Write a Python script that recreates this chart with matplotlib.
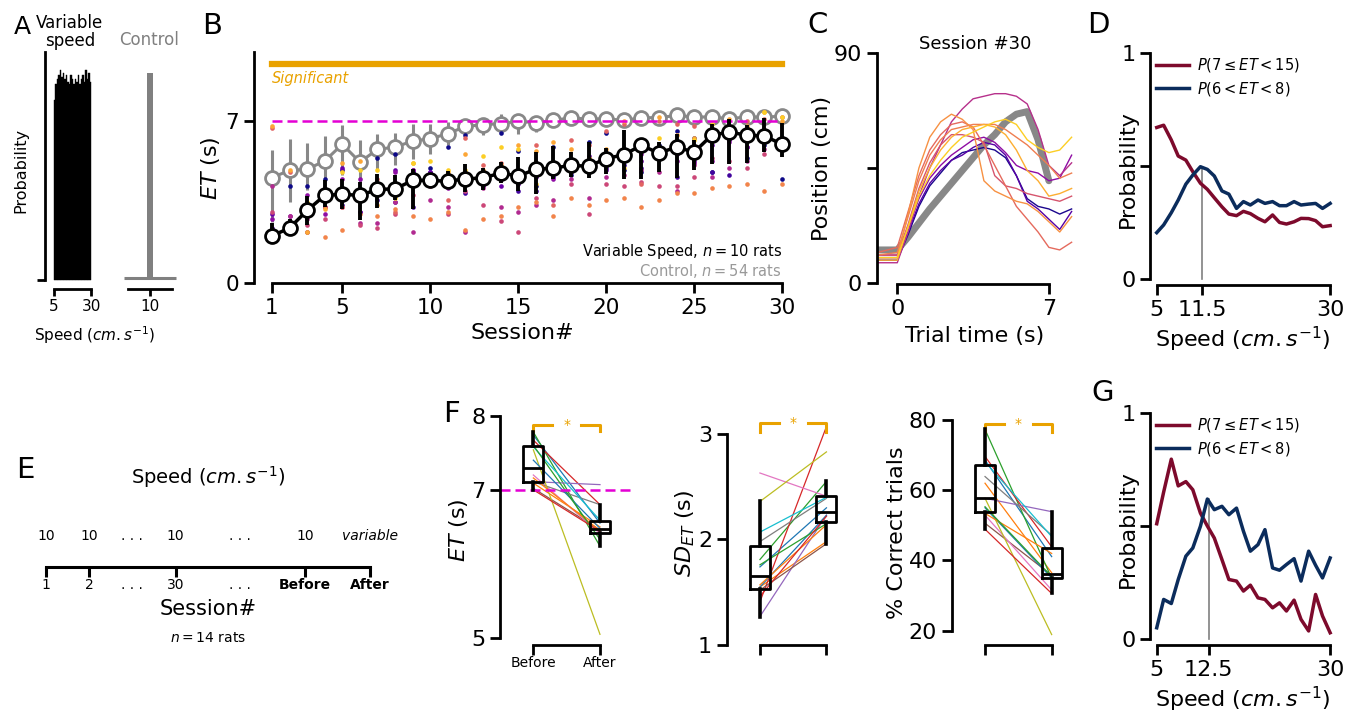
import numpy as np
import matplotlib
matplotlib.use('Agg')
import matplotlib.pyplot as plt

# ---------------- data ----------------
# Panel A
A_bins = [5.5, 6.5, 7.5, 8.5, 9.5, 10.5, 11.5, 12.5, 13.5, 14.5, 15.5, 16.5, 17.5,
          18.5, 19.5, 20.5, 21.5, 22.5, 23.5, 24.5, 25.5, 26.5, 27.5, 28.5, 29.5]
A_var_prob = [0.79, 0.86, 0.88, 0.90, 0.92, 0.89, 0.91, 0.88, 0.90, 0.87, 0.86, 0.90, 0.88,
              0.86, 0.88, 0.87, 0.90, 0.86, 0.88, 0.90, 0.87, 0.92, 0.88, 0.91, 0.87]
A_ctrl_speed = [10]
A_ctrl_prob = [0.91]
A_ctrl_base = 0.01

# Panel B
sessions = list(range(1, 31))
ctrl_mean = [4.57, 4.88, 4.93, 5.29, 6.01, 5.24, 5.79, 5.89, 6.15, 6.25, 6.47, 6.78, 6.86, 6.90, 7.01,
             6.94, 7.04, 7.16, 7.09, 7.12, 7.04, 7.16, 7.16, 7.26, 7.19, 7.19, 7.12, 7.19, 7.19, 7.22]
ctrl_hi = [5.78, 6.25, 6.08, 6.35, 6.83, 6.21, 6.47, 6.50, 6.90, 6.90, 6.97, 7.01, 7.12, 7.33, 7.19,
           7.12, 7.30, 7.38, 7.32, 7.34, 7.28, 7.38, 7.36, 7.47, 7.40, 7.40, 7.34, 7.41, 7.41, 7.44]
ctrl_lo = [2.65, 3.51, 4.02, 4.57, 4.67, 4.38, 4.96, 5.10, 5.39, 5.60, 5.96, 6.25, 6.40, 6.54, 6.47,
           6.54, 6.75, 6.88, 6.82, 6.85, 6.78, 6.90, 6.90, 7.00, 6.93, 6.93, 6.85, 6.93, 6.93, 6.98]
var_mean = [2.05, 2.39, 3.15, 3.80, 3.85, 3.80, 4.06, 4.08, 4.45, 4.45, 4.41, 4.52, 4.55, 4.77, 4.64,
            4.93, 4.98, 5.10, 5.06, 5.39, 5.56, 5.96, 5.63, 5.89, 5.67, 6.40, 6.54, 6.40, 6.37, 6.01]
var_hi = [2.62, 2.80, 3.76, 4.45, 4.52, 4.38, 4.74, 4.67, 4.96, 4.67, 4.84, 5.14, 4.98, 5.24, 5.46,
          5.67, 5.92, 5.67, 6.11, 5.86, 6.61, 6.25, 6.11, 6.47, 6.18, 6.90, 7.12, 6.83, 7.16, 6.91]
var_lo = [2.05, 2.20, 2.51, 3.30, 3.23, 2.75, 3.27, 3.59, 3.20, 4.16, 4.16, 3.95, 4.05, 4.33, 3.98,
          3.85, 4.52, 4.59, 4.57, 4.74, 4.52, 4.52, 4.81, 4.57, 4.88, 5.14, 5.14, 5.20, 5.67, 5.44]
rat_et = [
    [2.1, 4.2, 4.2, 4.5, 4.9, 3.9, 5.4, 5.6, 4.8, 5.0, 5.9, 6.4, 4.4, 6.5, 5.7, 4.2, 5.9, 4.7, 6.1, 6.5, 4.9, 4.8, 6.0, 6.6, 6.3, 4.8, 6.5, 5.4, 6.0, 4.5],
    [2.4, 2.2, 2.2, 3.3, 3.4, 3.1, 3.6, 3.5, 3.3, 4.8, 4.3, 3.9, 4.3, 4.5, 4.0, 4.0, 4.6, 4.9, 4.8, 5.0, 5.1, 5.0, 5.5, 4.6, 5.6, 4.8, 4.7, 5.9, 6.2, 6.3],
    [3.0, 2.9, 3.3, 3.6, 5.0, 3.1, 4.0, 4.9, 4.9, 4.8, 4.3, 4.5, 4.2, 4.2, 4.3, 4.6, 4.8, 4.8, 5.5, 4.9, 5.3, 5.3, 5.7, 5.6, 5.3, 6.0, 6.2, 6.3, 6.1, 6.1],
    [2.8, 2.6, 3.8, 3.0, 4.5, 4.5, 4.3, 4.8, 4.9, 4.6, 4.1, 4.4, 4.7, 4.5, 4.9, 5.1, 4.5, 5.0, 5.4, 5.1, 5.5, 5.6, 5.8, 5.3, 5.2, 5.3, 6.1, 5.9, 6.4, 5.9],
    [4.2, 2.9, 2.8, 3.3, 3.8, 2.6, 2.6, 3.5, 2.2, 3.6, 3.3, 2.2, 4.1, 3.3, 3.1, 3.4, 3.6, 4.5, 3.7, 4.6, 4.7, 4.9, 4.8, 4.0, 5.1, 4.6, 5.0, 5.3, 5.8, 5.9],
    [3.1, 2.4, 2.5, 2.8, 3.3, 2.5, 2.4, 3.0, 3.8, 4.2, 3.0, 4.0, 3.4, 2.7, 2.2, 3.7, 4.8, 4.3, 3.0, 4.3, 4.2, 4.4, 4.2, 4.2, 4.6, 5.4, 5.3, 5.0, 5.6, 5.8],
    [6.7, 4.8, 3.1, 3.3, 3.3, 3.9, 4.5, 3.1, 4.2, 4.3, 3.6, 6.3, 5.1, 5.2, 4.7, 6.0, 3.4, 6.2, 6.0, 6.6, 6.9, 4.3, 7.0, 6.9, 6.8, 6.5, 6.3, 7.0, 7.1, 7.2],
    [2.3, 2.2, 2.2, 2.0, 2.3, 3.0, 2.9, 3.2, 2.9, 2.8, 3.1, 2.3, 2.8, 2.9, 3.3, 3.5, 2.9, 3.7, 3.4, 3.6, 3.7, 3.3, 3.6, 3.9, 3.9, 4.1, 4.2, 4.3, 4.0, 4.3],
    [6.8, 4.9, 2.2, 3.2, 5.2, 5.3, 3.4, 3.9, 5.2, 4.6, 4.8, 5.6, 4.9, 5.1, 6.0, 5.7, 6.1, 5.8, 4.8, 5.8, 7.0, 6.0, 7.2, 6.4, 6.3, 6.5, 7.1, 6.8, 7.4, 7.0],
    [2.0, 2.2, 3.5, 3.9, 4.8, 4.9, 4.9, 3.7, 5.2, 5.3, 4.9, 4.9, 5.5, 5.9, 5.8, 4.3, 5.1, 5.3, 5.4, 5.6, 5.0, 5.7, 6.3, 5.9, 6.2, 6.9, 6.5, 6.6, 7.4, 7.2],
]
sig_level = 9.48
target_et = 7

# Panel C
C_time = [-0.9, 0, 0.5, 1, 1.5, 2, 2.5, 3, 3.5, 4, 4.5, 5, 5.5, 6, 6.5, 7, 7.5, 8.05]
C_mean = [13, 13, 18, 23.5, 29, 34, 39, 44, 49, 54, 58, 63, 66, 67, 56, 40, np.nan, np.nan]
C_traj = [
    [9, 9, 19, 30, 38, 43, 48, 51, 52, 53, 52, 49, 42, 33, 30, 29, 27, 29],
    [10, 10, 20, 31, 39, 44, 48, 50, 53, 55, 54, 50, 42, 32, 29, 25, 21, 28],
    [11, 11, 22, 33, 41, 46, 50, 53, 56, 57, 55, 51, 46, 44, 43, 40, 41, 50],
    [8, 8, 20, 34, 45, 54, 63, 68, 72, 73, 74, 74, 73, 70, 60, 46, 42, 47],
    [11, 11, 23, 37, 47, 54, 58, 58, 57, 55, 42, 38, 37, 35, 34, 33, 32, 34],
    [12, 14, 28, 42, 52, 58, 62, 63, 61, 54, 46, 38, 30, 25, 20, 14, 13, 16],
    [11, 12, 26, 40, 50, 56, 60, 61, 62, 62, 62, 60, 57, 54, 50, 46, 41, 43],
    [10, 10, 27, 45, 57, 63, 66, 64, 60, 40, 36, 34, 32, 31, 28, 24, 20, 26],
    [9, 9, 22, 36, 45, 52, 57, 60, 61, 62, 61, 58, 52, 44, 40, 34, 35, 37],
    [10, 10, 22, 34, 42, 48, 53, 57, 59, 61, 63, 64, 62, 56, 53, 51, 52, 57],
]

# Panels D and G
speed_bins = [5.0, 6.0, 7.1, 8.1, 9.2, 10.2, 11.3, 12.3, 13.3, 14.4, 15.4, 16.5, 17.5,
              18.5, 19.6, 20.6, 21.7, 22.7, 23.7, 24.8, 25.8, 26.9, 27.9, 28.9, 30.0]
D_long = [0.67, 0.68, 0.615, 0.544, 0.526, 0.475, 0.424, 0.397, 0.36, 0.32, 0.288, 0.281, 0.30,
          0.29, 0.269, 0.254, 0.284, 0.251, 0.244, 0.254, 0.269, 0.268, 0.259, 0.232, 0.237]
D_correct = [0.206, 0.24, 0.294, 0.35, 0.42, 0.46, 0.497, 0.485, 0.456, 0.39, 0.376, 0.313, 0.343,
             0.328, 0.35, 0.335, 0.343, 0.325, 0.325, 0.343, 0.328, 0.332, 0.335, 0.313, 0.335]
D_cross = 11.5
D_cross_p = 0.49
G_long = [0.51, 0.65, 0.795, 0.677, 0.696, 0.66, 0.557, 0.50, 0.447, 0.352, 0.264, 0.257, 0.213,
          0.239, 0.183, 0.176, 0.139, 0.161, 0.125, 0.173, 0.088, 0.037, 0.198, 0.103, 0.029]
G_correct = [0.051, 0.176, 0.158, 0.264, 0.367, 0.403, 0.499, 0.619, 0.572, 0.587, 0.55, 0.579, 0.477,
             0.389, 0.418, 0.484, 0.315, 0.305, 0.33, 0.356, 0.257, 0.389, 0.327, 0.271, 0.359]
G_cross = 12.5
G_cross_p = 0.62
legend_labels = [r'$P(7 \leq ET < 15)$', r'$P(6 < ET < 8)$']

# Panel E
E_pos = [0, 1, 2, 3, 4.5, 6, 7.5]
E_session = ['1', '2', '. . .', '30', '. . .', 'Before', 'After']
E_speed = ['10', '10', '. . .', '10', '. . .', '10', 'variable']

# Panel F
F_et_before = [7.74, 7.09, 7.78, 7.67, 7.11, 7.02, 7.20, 7.11, 7.54, 7.58, 7.40, 7.16, 7.60, 7.00]
F_et_after = [6.55, 6.50, 6.24, 6.80, 7.07, 6.46, 6.41, 6.80, 5.05, 6.59, 6.48, 6.45, 6.33, 6.44]
F_sd_before = [1.74, 1.55, 1.81, 1.41, 1.27, 1.52, 2.63, 1.98, 2.36, 2.07, 1.55, 1.57, 1.76, 1.46]
F_sd_after = [2.30, 1.98, 2.55, 3.07, 2.23, 1.96, 2.41, 2.39, 2.83, 2.40, 2.23, 2.14, 2.15, 2.22]
F_pc_before = [68.6, 62.0, 77.3, 69.6, 57.7, 50.6, 52.9, 63.9, 57.7, 68.1, 55.0, 53.4, 55.3, 48.9]
F_pc_after = [41.1, 36.5, 34.9, 43.9, 53.9, 35.8, 31.6, 47.2, 18.9, 46.8, 35.0, 42.0, 35.4, 30.6]

ORANGE = '#e9a200'
MAGENTA = '#e400d4'
DRED = '#7d0a2c'
DBLUE = '#0b2c5c'

# ---------------- figure ----------------
W, H = 1360, 715
fig = plt.figure(figsize=(13.6, 7.15), dpi=100)


def rect(l, t, r, b):
    return [l / W, 1 - b / H, (r - l) / W, (b - t) / H]


def style(ax, fs=15.5, lw=2.0, tl=7, pad=3.5):
    for s in ['top', 'right']:
        ax.spines[s].set_visible(False)
    for s in ['left', 'bottom']:
        ax.spines[s].set_linewidth(lw)
    ax.tick_params(width=lw, length=tl, labelsize=fs, pad=pad)


# ---- Panel A ----
axA = fig.add_axes(rect(45, 52, 93, 289))
style(axA, fs=11, tl=5, pad=2)
axA.bar(A_bins, A_var_prob, width=1.0, color='black', edgecolor='black', linewidth=0.3)
axA.set_xlim(-1.08, 31.35)
axA.set_ylim(-0.0395, 1)
axA.spines['left'].set_bounds(0, 1)
axA.spines['bottom'].set_bounds(5, 30)
axA.set_xticks([5, 30])
axA.set_yticks([0])
axA.set_yticklabels([])
axA.tick_params(axis='y', length=6)
axA.set_ylabel('Probability', fontsize=11.5, labelpad=4)

axA2 = fig.add_axes(rect(120, 52, 180, 289))
style(axA2, fs=11, tl=5, pad=2)
axA2.spines['left'].set_visible(False)
axA2.hlines(A_ctrl_base, 4.8, 15.2, color='gray', lw=2.2)
axA2.bar(A_ctrl_speed, A_ctrl_prob, width=1.2, color='gray')
axA2.set_xlim(4, 16)
axA2.set_ylim(-0.0395, 1)
axA2.spines['bottom'].set_bounds(5.6, 14.4)
axA2.set_xticks([10])
axA2.set_yticks([])

fig.text(70 / W, 1 - 32 / H, 'Variable\nspeed', ha='center', va='center', fontsize=12, linespacing=1.0)
fig.text(149 / W, 1 - 40 / H, 'Control', ha='center', va='center', fontsize=12, color='gray')
fig.text(95 / W, 1 - 335 / H, r'Speed ($cm.s^{-1}$)', ha='center', va='center', fontsize=11)

# ---- Panel B ----
axB = fig.add_axes(rect(254, 52, 790, 283.3))
style(axB)
axB.set_xlim(-0.02, 30.45)
axB.set_ylim(0, 10)
axB.spines['left'].set_bounds(0, 10)
axB.spines['bottom'].set_bounds(1, 30)
axB.set_xticks([1, 5, 10, 15, 20, 25, 30])
axB.set_yticks([0, 7])
axB.plot([sessions[0], sessions[-1]], [sig_level, sig_level], color=ORANGE, lw=4.5,
         solid_capstyle='projecting')
axB.text(1, sig_level - 0.28, 'Significant', color=ORANGE, style='italic', fontsize=10.5, va='top')
cm_lo = [m - l for m, l in zip(ctrl_mean, ctrl_lo)]
cm_hi = [h - m for m, h in zip(ctrl_mean, ctrl_hi)]
axB.errorbar(sessions, ctrl_mean, yerr=[cm_lo, cm_hi], fmt='none', ecolor='#888888', elinewidth=2.2, zorder=2)
axB.plot(sessions, ctrl_mean, color='#888888', lw=2.2, marker='o', ms=10, mfc='white',
         mec='#888888', mew=2.0, zorder=3)
rat_colors = plt.cm.plasma(np.linspace(0, 0.9, len(rat_et)))
for vals, col in zip(rat_et, rat_colors):
    axB.scatter(sessions, vals, s=11, color=col, zorder=4, linewidths=0)
axB.plot([sessions[0], sessions[-1]], [target_et, target_et], color=MAGENTA, lw=1.8,
         ls=(0, (4, 2)), zorder=5)
vm_lo = [max(m - l, 0) for m, l in zip(var_mean, var_lo)]
vm_hi = [h - m for m, h in zip(var_mean, var_hi)]
axB.errorbar(sessions, var_mean, yerr=[vm_lo, vm_hi], fmt='none', ecolor='black', elinewidth=2.8, zorder=6)
axB.plot(sessions, var_mean, color='black', lw=2.5, marker='o', ms=10, mfc='white',
         mec='black', mew=2.0, zorder=7)
axB.set_xlabel('Session#', fontsize=16, labelpad=4)
axB.set_ylabel(r'$ET$ (s)', fontsize=16, labelpad=2.5)
axB.text(30, 1.36, r'Variable Speed, $n=10$ rats', ha='right', va='center', fontsize=10.5)
axB.text(30, 0.55, r'Control, $n=54$ rats', ha='right', va='center', fontsize=10.5, color='#999999')

# ---- Panel C ----
axC = fig.add_axes(rect(876.7, 52.7, 1072.7, 284))
style(axC, fs=16)
rat_colors_c = plt.cm.plasma([0.02, 0.15, 0.3, 0.42, 0.55, 0.62, 0.68, 0.74, 0.82, 0.9])
axC.plot(C_time, C_mean, color='#888888', lw=5, zorder=1, solid_capstyle='round')
for tr, col in zip(C_traj, rat_colors_c):
    axC.plot(C_time, tr, color=col, lw=1.0, zorder=2)
axC.set_xlim(-0.95, 8.1)
axC.set_ylim(-0.3, 90)
axC.spines['left'].set_bounds(0, 90)
axC.spines['bottom'].set_bounds(0, 7)
axC.set_xticks([0, 7])
axC.set_yticks([0, 45, 90])
axC.set_yticklabels(['0', '', '90'])
axC.set_xlabel('Trial time (s)', fontsize=16, labelpad=5)
axC.set_ylabel('Position (cm)', fontsize=16, labelpad=1)
axC.set_title('Session #30', fontsize=13, pad=2)


# ---- Panels D and G ----
def prob_panel(rc, long_p, corr_p, cross, cross_p, xt_lab):
    ax = fig.add_axes(rc)
    style(ax, fs=16)
    ax.plot(speed_bins, long_p, color=DRED, lw=2.5, label=legend_labels[0])
    ax.plot(speed_bins, corr_p, color=DBLUE, lw=2.5, label=legend_labels[1])
    ax.plot([cross, cross], [0, cross_p], color='gray', lw=1.2, zorder=0)
    ax.set_xlim(4.03, 30.7)
    ax.set_ylim(-0.025, 1)
    ax.spines['left'].set_bounds(0, 1)
    ax.spines['bottom'].set_bounds(5, 30)
    ax.set_xticks([5, cross, 30])
    ax.set_xticklabels(['5', xt_lab, '30'])
    ax.set_yticks([0, 0.5, 1])
    ax.set_yticklabels(['0', '', '1'])
    ax.set_xlabel(r'Speed ($cm.s^{-1}$)', fontsize=16, labelpad=4)
    ax.set_ylabel('Probability', fontsize=16)
    ax.yaxis.set_label_coords(-0.068, 0.5)
    ax.legend(loc='upper left', bbox_to_anchor=(0.03, 0.985), frameon=False, fontsize=10.5,
              handlelength=2.3, handletextpad=0.55, labelspacing=0.4, borderaxespad=0, borderpad=0)
    return ax


axD = prob_panel(rect(1150, 52.7, 1335, 285), D_long, D_correct, D_cross, D_cross_p, '11.5')
axG = prob_panel(rect(1150, 412.7, 1335, 645), G_long, G_correct, G_cross, G_cross_p, '12.5')

# ---- Panel E ----
axE = fig.add_axes(rect(46, 487, 370, 566.7))
for s in ['top', 'right', 'left']:
    axE.spines[s].set_visible(False)
axE.spines['bottom'].set_linewidth(2.2)
axE.set_xlim(0, 7.5)
axE.set_ylim(0, 1)
axE.set_yticks([])
axE.set_xticks(E_pos)
axE.set_xticklabels(E_session, fontsize=10)
axE.tick_params(axis='x', width=2.2, length=7, pad=1)
for i, lab in enumerate(E_session):
    if lab.startswith('.'):
        axE.xaxis.get_major_ticks()[i].tick1line.set_visible(False)
    if lab in ('Before', 'After'):
        axE.get_xticklabels()[i].set_fontweight('bold')
for x, lab in zip(E_pos, E_speed):
    axE.text(x, 0.39, lab, ha='center', va='center', fontsize=10,
             style='italic' if lab == 'variable' else 'normal')
axE.text(3.75, 1.12, r'Speed ($cm.s^{-1}$)', ha='center', va='center', fontsize=14)
axE.text(3.75, -0.53, 'Session#', ha='center', va='center', fontsize=15)
axE.text(3.75, -0.9, r'$n=14$ rats', ha='center', va='center', fontsize=10)


# ---- Panel F ----
def paired_panel(rc, before, after, ylim, bounds, yticks, ylabel, br_top, br_bot, xlabels):
    ax = fig.add_axes(rc)
    style(ax, fs=16)
    cols = plt.cm.tab10(np.arange(len(before)) % 10)
    for b, a, c in zip(before, after, cols):
        ax.plot([0, 1], [b, a], color=c, lw=0.9, zorder=1)
    ax.boxplot([before, after], positions=[0, 1], widths=0.3, showfliers=False, showcaps=False,
               medianprops=dict(color='black', lw=2.0), boxprops=dict(color='black', lw=2.0),
               whiskerprops=dict(color='black', lw=2.6), zorder=3)
    ax.plot([0, 0, 0.28], [br_bot, br_top, br_top], color=ORANGE, lw=2.2, clip_on=False)
    ax.plot([0.72, 1, 1], [br_top, br_top, br_bot], color=ORANGE, lw=2.2, clip_on=False)
    ax.text(0.5, br_top, '*', color=ORANGE, ha='center', va='center', fontsize=10)
    ax.set_xlim(-0.5, 1.5)
    ax.set_ylim(*ylim)
    ax.spines['left'].set_bounds(*bounds)
    ax.spines['bottom'].set_bounds(0, 1)
    ax.set_yticks(yticks)
    ax.set_xticks([0, 1])
    ax.set_xticklabels(xlabels, fontsize=10)
    ax.tick_params(axis='x', pad=1)
    ax.set_ylabel(ylabel, fontsize=16, labelpad=1)
    return ax


axF1 = paired_panel(rect(500, 415.7, 633.3, 645), F_et_before, F_et_after, (4.906, 8), (5, 8),
                    [5, 7, 8], r'$ET$ (s)', 7.87, 7.79, ['Before', 'After'])
axF1.axhline(target_et, color=MAGENTA, lw=1.8, ls=(0, (4, 2)), zorder=2)
axF2 = paired_panel(rect(726.7, 421.3, 859.7, 645), F_sd_before, F_sd_after, (1, 3.12), (1, 3),
                    [1, 2, 3], r'$SD_{ET}$ (s)', 3.10, 3.02, ['', ''])
axF3 = paired_panel(rect(951.7, 420, 1085, 645), F_pc_before, F_pc_after, (15.93, 80), (20, 80),
                    [20, 40, 60, 80], '% Correct trials', 78.9, 76.7, ['', ''])

# ---- panel letters ----
for lab, x, y, fs in [('A', 22, 27, 18), ('B', 212, 26, 21), ('C', 818, 25, 21), ('D', 1098, 25, 21),
                      ('E', 25, 470, 21), ('F', 452, 414, 21), ('G', 1103, 393, 21)]:
    fig.text(x / W, 1 - y / H, lab, fontsize=fs, ha='center', va='center')

fig.savefig('out.png', dpi=100)
